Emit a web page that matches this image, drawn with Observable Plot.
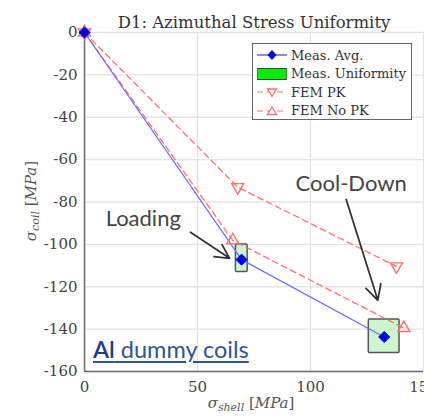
<!DOCTYPE html>
<html>
<head>
<meta charset="utf-8">
<script src="https://cdn.jsdelivr.net/npm/d3@7"></script>
<script src="https://cdn.jsdelivr.net/npm/@observablehq/plot@0.6"></script>
<style>
  html, body { margin: 0; padding: 0; background: #fff; }
  #wrap { position: relative; width: 424px; height: 418px; overflow: hidden; }
  #legend { position: absolute; left: 252px; top: 43px; width: 158px; height: 75px;
    border: 1.5px solid #666; background: #fff; font-family: "DejaVu Serif", serif; font-size: 13px; color: #333; }
  #legend .row { position: absolute; left: 0; height: 18px; display: flex; align-items: center; }
  #legend svg { display: block; margin-left: 4px; margin-right: 4px; }
  #note { position: absolute; left: 93px; top: 335px; font-family: Lato, sans-serif; font-size: 23.5px;
    color: #2f5597; text-decoration: underline; text-decoration-thickness: 1.5px; text-underline-offset: 3px; white-space: nowrap; }
  #note b { color: #1f3f8a; font-weight: 600; }
</style>
</head>
<body>
<div id="wrap"></div>
<script>
// ---- data ----
const measX = [0, 69.5, 132.6];
const measY = [0, -107.2, -143.7];
const uniX1 = [67.0, 125.8];
const uniX2 = [72.2, 139.4];
const uniY1 = [-100.1, -135.4];
const uniY2 = [-113.0, -151.3];
const femPkX = [0, 67.8, 138.0];
const femPkY = [0, -73.0, -110.4];
const femNoPkX = [0, 65.6, 141.3];
const femNoPkY = [0, -98.1, -139.5];
const xTicks = [0, 50, 100, 150];
const yTicks = [0, -20, -40, -60, -80, -100, -120, -140, -160];
const annLabels = ["Loading", "Cool-Down"];
const annX = [26, 118];
const annY = [-88, -71.5];
const arrX1 = [46.9, 115.8];
const arrY1 = [-94.3, -78.8];
const arrX2 = [64.2, 129.8];
const arrY2 = [-106.6, -126.4];
const titleText = "D1: Azimuthal Stress Uniformity";
const legendLabels = ["Meas. Avg.", "Meas. Uniformity", "FEM PK", "FEM No PK"];

// ---- tables ----
const meas = measX.map((x, i) => ({x, y: measY[i]}));
const uni = uniX1.map((x1, i) => ({x1, x2: uniX2[i], y1: uniY1[i], y2: uniY2[i]}));
const pk = femPkX.map((x, i) => ({x, y: femPkY[i]}));
const nopk = femNoPkX.map((x, i) => ({x, y: femNoPkY[i]}));
const ann = annLabels.map((t, i) => ({t, x: annX[i], y: annY[i]}));
const arrows = arrX1.map((x1, i) => ({x1, y1: arrY1[i], x2: arrX2[i], y2: arrY2[i]}));

const red = "#ff6f6f";
const serif = "DejaVu Serif, serif";
const fmt = d => String(d);

const chart = Plot.plot({
  width: 424, height: 418,
  marginLeft: 84, marginRight: 1, marginTop: 32, marginBottom: 47,
  style: {fontFamily: serif, background: "#fff", overflow: "visible"},
  x: {domain: [0, 150]},
  y: {domain: [-160, 0]},
  marks: [
    Plot.gridX(xTicks.slice(1), {stroke: "#e3e3e3", strokeOpacity: 1, strokeWidth: 1.3}),
    Plot.gridY(yTicks, {stroke: "#e3e3e3", strokeOpacity: 1, strokeWidth: 1.3}),
    Plot.axisX(xTicks, {tickSize: 0, tickPadding: 10, fontSize: 15, fill: "#444", label: null, tickFormat: fmt}),
    Plot.axisY(yTicks, {tickSize: 0, tickPadding: 7, fontSize: 15, fill: "#444", label: null, tickFormat: fmt}),
    Plot.ruleX([0], {stroke: "#6a6a6a", strokeWidth: 1.5}),
    Plot.ruleY([-160], {stroke: "#6a6a6a", strokeWidth: 1.5}),
    Plot.rect(uni, {x1: "x1", x2: "x2", y1: "y1", y2: "y2", fill: "#ccf7cc", stroke: "#555", strokeWidth: 1.5, rx: 1}),
    Plot.line(pk, {x: "x", y: "y", stroke: red, strokeWidth: 1.3, strokeDasharray: "6,4"}),
    Plot.line(nopk, {x: "x", y: "y", stroke: red, strokeWidth: 1.3, strokeDasharray: "6,4"}),
    Plot.line(meas, {x: "x", y: "y", stroke: "#6b6bff", strokeWidth: 1.2}),
    Plot.dot(pk, {x: "x", y: "y", symbol: "triangle", rotate: 180, r: 4.5, stroke: red, strokeWidth: 1.4, fill: "none"}),
    Plot.dot(nopk, {x: "x", y: "y", symbol: "triangle", r: 4.5, stroke: red, strokeWidth: 1.4, fill: "none"}),
    Plot.dot(meas, {x: "x", y: "y", symbol: "diamond2", r: 5, fill: "#0000f0", stroke: "#0000f0", strokeWidth: 1}),
    Plot.arrow(arrows, {x1: "x1", y1: "y1", x2: "x2", y2: "y2", stroke: "#333", strokeWidth: 1.8, headLength: 14, headAngle: 55}),
    Plot.text(ann, {x: "x", y: "y", text: "t", fontFamily: "Lato, sans-serif", fontSize: 22, fill: "#444"}),
    Plot.text([titleText], {frameAnchor: "top", dy: -16, fontSize: 16.5, fill: "#333", fontFamily: serif})
  ]
});

const svg = d3.select(chart);

// axis titles with subscripts
svg.append("text")
  .attr("x", 251).attr("y", 408)
  .attr("text-anchor", "middle")
  .attr("font-family", serif).attr("font-size", 15).attr("fill", "#555")
  .call(t => {
    t.append("tspan").attr("font-style", "italic").text("σ");
    t.append("tspan").attr("font-style", "italic").attr("font-size", 11).attr("dy", 3).text("shell");
    t.append("tspan").attr("dy", -3).text(" [");
    t.append("tspan").attr("font-style", "italic").text("MPa");
    t.append("tspan").text("]");
  });
svg.append("text")
  .attr("transform", "translate(36,201) rotate(-90)")
  .attr("text-anchor", "middle")
  .attr("font-family", serif).attr("font-size", 15).attr("fill", "#555")
  .call(t => {
    t.append("tspan").attr("font-style", "italic").text("σ");
    t.append("tspan").attr("font-style", "italic").attr("font-size", 11).attr("dy", 3).text("coil");
    t.append("tspan").attr("dy", -3).text(" [");
    t.append("tspan").attr("font-style", "italic").text("MPa");
    t.append("tspan").text("]");
  });

const wrap = document.getElementById("wrap");
wrap.appendChild(chart);

// legend
const legend = document.createElement("div");
legend.id = "legend";
const swatches = [
  `<line x1="0" y1="6" x2="30" y2="6" stroke="#3b3bff" stroke-width="1.2"/><path d="M15,1 L19.5,6 L15,11 L10.5,6Z" fill="#0000f0"/>`,
  `<rect x="0" y="0.5" width="30" height="11" fill="#00ee00" stroke="#444" stroke-width="1"/>`,
  `<line x1="0" y1="6" x2="30" y2="6" stroke="${red}" stroke-width="1.2" stroke-dasharray="6,4"/><path d="M10.5,3 L19.5,3 L15,10.5Z" fill="#fff" stroke="${red}" stroke-width="1.3"/>`,
  `<line x1="0" y1="6" x2="30" y2="6" stroke="${red}" stroke-width="1.2" stroke-dasharray="6,4"/><path d="M10.5,9.5 L19.5,9.5 L15,2Z" fill="#fff" stroke="${red}" stroke-width="1.3"/>`
];
legendLabels.forEach((lab, i) => {
  const row = document.createElement("div");
  row.className = "row";
  row.style.top = (2 + i * 18.5) + "px";
  row.innerHTML = `<svg width="30" height="12">${swatches[i]}</svg><span>${lab}</span>`;
  legend.appendChild(row);
});
wrap.appendChild(legend);

const note = document.createElement("div");
note.id = "note";
note.innerHTML = "<b>Al</b> dummy coils";
wrap.appendChild(note);
</script>
</body>
</html>
